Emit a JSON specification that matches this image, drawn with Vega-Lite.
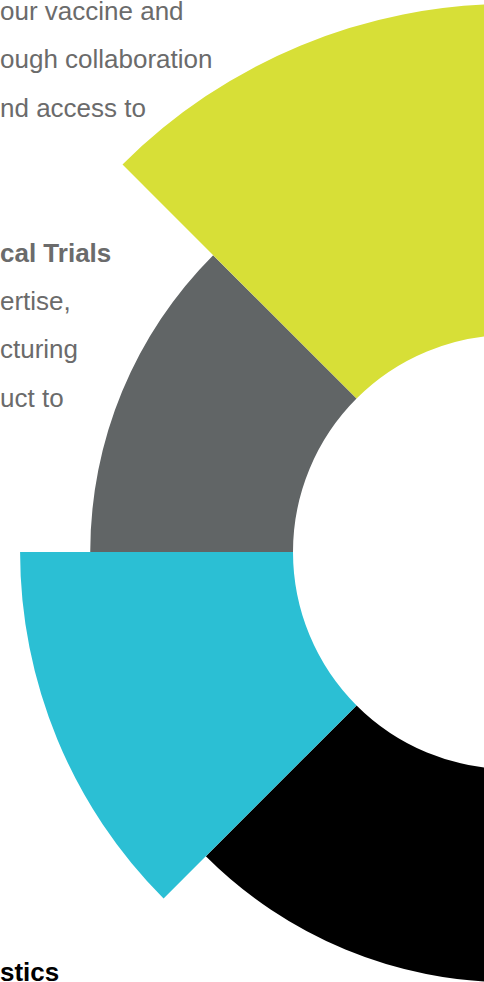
{
  "$schema": "https://vega.github.io/schema/vega-lite/v6.json",
  "width": 1020,
  "height": 1104,
  "padding": 0,
  "autosize": {"type": "none"},
  "background": "white",
  "config": {"view": {"stroke": null}},
  "datasets": {
    "segments": [
      {"idx": 1, "name": "Black", "share": 1, "value": 78.5},
      {"idx": 2, "name": "Cyan", "share": 1, "value": 89.4},
      {"idx": 3, "name": "Gray", "share": 1, "value": 76.6},
      {"idx": 4, "name": "Yellow", "share": 1, "value": 100}
    ],
    "texts": [
      {"line": 0, "text": "our vaccine and", "style": "normal"},
      {"line": 1, "text": "ough collaboration", "style": "normal"},
      {"line": 2, "text": "nd access to", "style": "normal"},
      {"line": 5, "text": "cal Trials", "style": "boldgray"},
      {"line": 6, "text": "ertise,", "style": "normal"},
      {"line": 7, "text": "cturing", "style": "normal"},
      {"line": 8, "text": "uct to", "style": "normal"},
      {"line": 20, "text": "stics", "style": "boldblack"}
    ]
  },
  "layer": [
    {
      "data": {"name": "segments"},
      "transform": [
        {"stack": "share", "groupby": [], "sort": [{"field": "idx", "order": "ascending"}], "as": ["t0", "t1"]}
      ],
      "mark": {"type": "arc", "innerRadius": 217},
      "encoding": {
        "theta": {"field": "t0", "type": "quantitative", "scale": {"domain": [-4, 4]}},
        "theta2": {"field": "t1"},
        "radius": {"field": "value", "type": "quantitative", "scale": {"type": "linear", "zero": true, "domain": [0, 100], "range": [0, 548]}},
        "color": {"field": "name", "type": "nominal", "legend": null,
          "scale": {"domain": ["Black", "Cyan", "Gray", "Yellow"], "range": ["#000000", "#2bbfd4", "#616566", "#d7df37"]}}
      }
    },
    {
      "data": {"name": "texts"},
      "transform": [{"filter": "datum.style === 'normal'"}],
      "mark": {"type": "text", "align": "left", "baseline": "alphabetic", "font": "Liberation Sans", "fontSize": 26, "color": "#6b6b6b"},
      "encoding": {
        "x": {"value": 0},
        "y": {"field": "line", "type": "quantitative", "axis": null, "scale": {"domain": [0, 20], "range": [20, 987]}},
        "text": {"field": "text"}
      }
    },
    {
      "data": {"name": "texts"},
      "transform": [{"filter": "datum.style === 'boldgray'"}],
      "mark": {"type": "text", "align": "left", "baseline": "alphabetic", "font": "Liberation Sans", "fontSize": 26, "fontWeight": "bold", "color": "#6b6b6b"},
      "encoding": {
        "x": {"value": 0},
        "y": {"field": "line", "type": "quantitative", "axis": null, "scale": {"domain": [0, 20], "range": [20, 987]}},
        "text": {"field": "text"}
      }
    },
    {
      "data": {"name": "texts"},
      "transform": [{"filter": "datum.style === 'boldblack'"}],
      "mark": {"type": "text", "align": "left", "baseline": "alphabetic", "font": "Liberation Sans", "fontSize": 26, "fontWeight": "bold", "color": "#000000", "dy": -6},
      "encoding": {
        "x": {"value": 0},
        "y": {"field": "line", "type": "quantitative", "axis": null, "scale": {"domain": [0, 20], "range": [20, 987]}},
        "text": {"field": "text"}
      }
    }
  ]
}
